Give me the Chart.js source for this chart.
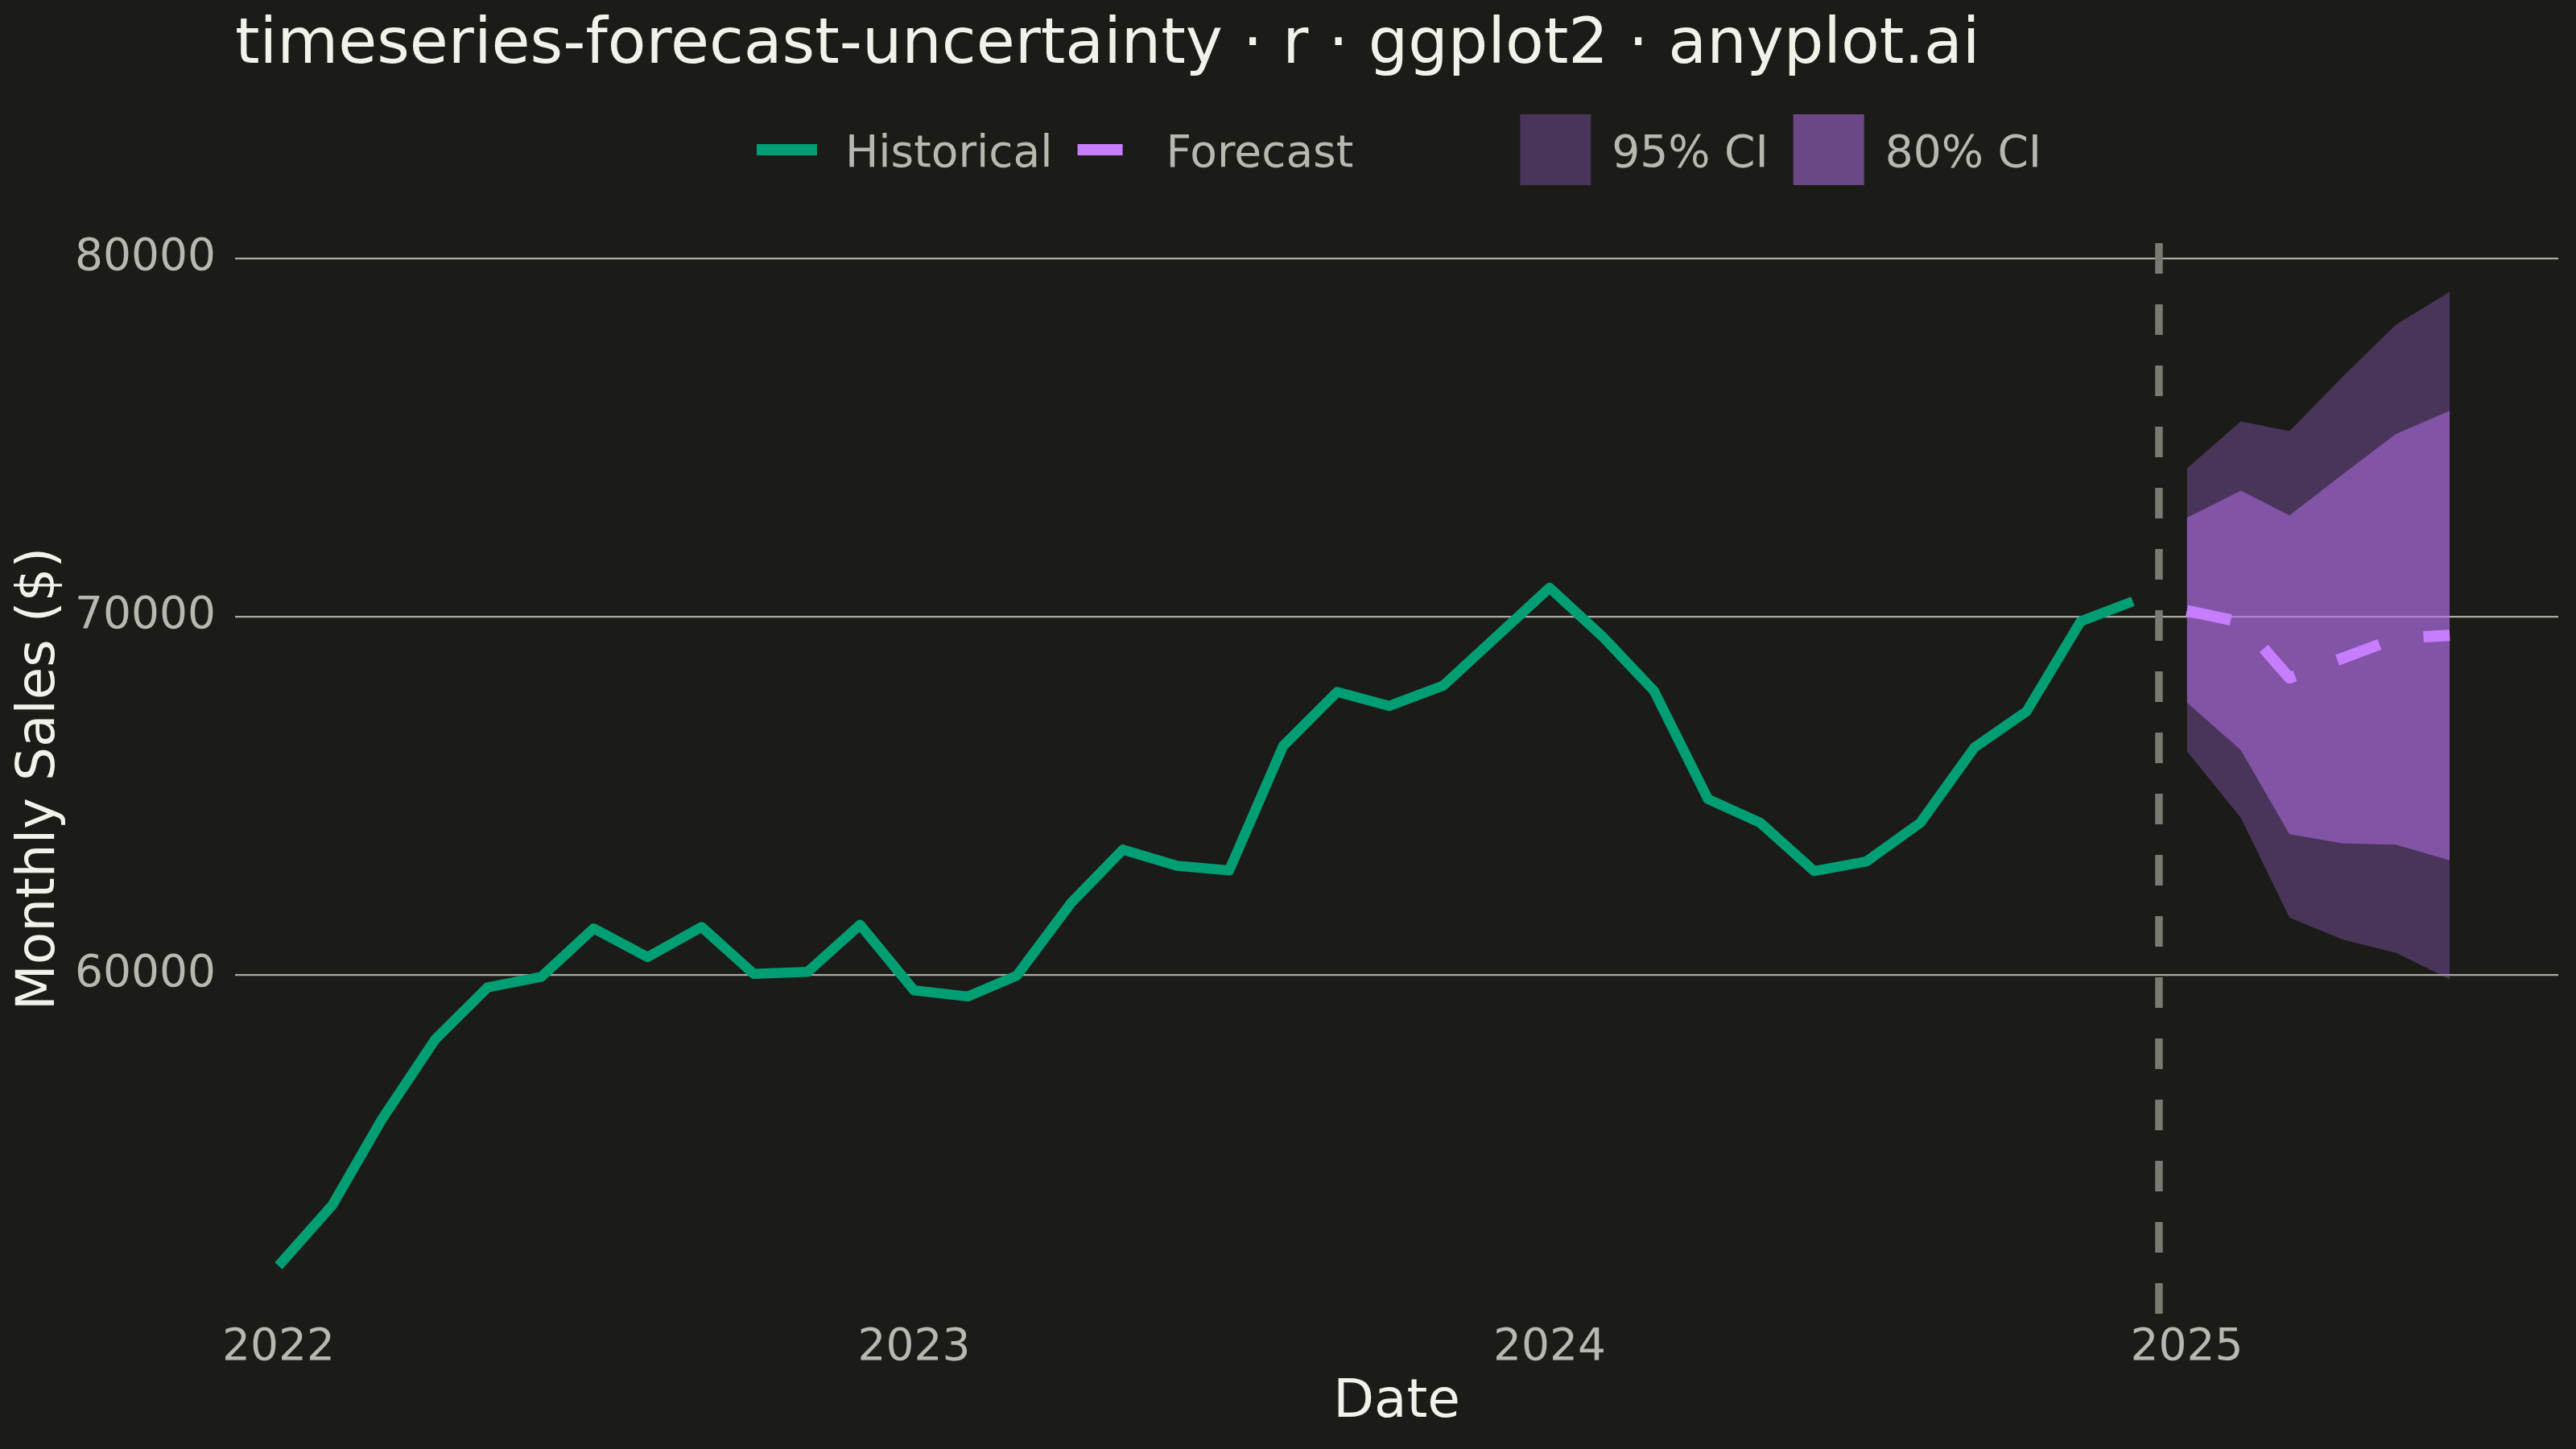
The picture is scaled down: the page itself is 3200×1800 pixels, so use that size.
<!DOCTYPE html>
<html>
<head>
<meta charset="utf-8">
<title>timeseries-forecast-uncertainty</title>
<script src="https://cdn.jsdelivr.net/npm/chart.js@4.4.1/dist/chart.umd.min.js"></script>
<style>
  html, body { margin: 0; padding: 0; background: #1b1b18; }
  #chart { display: block; }
</style>
</head>
<body>
<canvas id="chart" width="3200" height="1800"></canvas>
<script>
// monthly sales, Jan 2022 - Dec 2024
const histStart = [2022, 0];
const historical = [51880, 53580, 55940, 58200, 59650, 59950, 61300, 60500, 61340, 60030, 60090, 61400,
  59570, 59400, 59980, 62000, 63500, 63050, 62920, 66390, 67900, 67510, 68080, 69420,
  70810, 69420, 67930, 64910, 64250, 62900, 63170, 64250, 66350, 67360, 69870, 70430];

// forecast, Jan 2025 - Jun 2025
const fcstStart = [2025, 0];
const forecast = [70170, 69850, 68290, 68850, 69400, 69480];
const lower80 = [67610, 66280, 63930, 63670, 63640, 63200];
const upper80 = [72760, 73520, 72830, 73990, 75100, 75750];
const lower95 = [66250, 64390, 61600, 60980, 60620, 59880];
const upper95 = [74140, 75450, 75180, 76720, 78150, 79070];

const xTickLabels = ['2022', '2023', '2024', '2025'];
const yTicks = [60000, 70000, 80000];
const cutoff = [2024, 11, 16]; // forecast origin marker

const BG = '#1b1b18';
const HIST_COLOR = '#009e73';
const FCST_COLOR = '#c77dff';
const CI95_FILL = 'rgba(163, 103, 214, 0.35)';
const CI80_FILL = 'rgba(182, 113, 236, 0.52)';
const TICK_COLOR = '#b8b8b0';
const TITLE_COLOR = '#f2f1ea';
const FONT = '"DejaVu Sans", "Liberation Sans", sans-serif';

// x is days since 2022-01-01
const ORIGIN = Date.UTC(2022, 0, 1);
const dayOf = (y, m, d = 1) => (Date.UTC(y, m, d) - ORIGIN) / 86400000;
const monthly = (start, values) => values.map((v, i) => ({ x: dayOf(start[0], start[1] + i), y: v }));

const allY = historical.concat(lower95, upper95);
const yLo = Math.min(...allY), yHi = Math.max(...allY);
const yPad = (yHi - yLo) * 0.05;
const xFirst = dayOf(histStart[0], histStart[1]);
const xLast = dayOf(fcstStart[0], fcstStart[1] + forecast.length - 1);
const xRange = xLast - xFirst;
const xMin = xFirst - xRange * 0.02, xMax = xLast + xRange * 0.05;
const cutX = dayOf(cutoff[0], cutoff[1], cutoff[2]);

const band = (values, extra) => Object.assign({
  data: monthly(fcstStart, values),
  borderWidth: 0, borderColor: 'transparent', pointRadius: 0, fill: false
}, extra);

// title + two-group legend drawn above the panel
const headerPlugin = {
  id: 'header',
  beforeDraw(chart) {
    const ctx = chart.ctx;
    ctx.save();
    ctx.fillStyle = BG;
    ctx.fillRect(0, 0, chart.width, chart.height);
    ctx.restore();
  },
  afterDraw(chart) {
    const ctx = chart.ctx;
    const area = chart.chartArea;
    ctx.save();
    ctx.fillStyle = TITLE_COLOR;
    ctx.font = '78px ' + FONT;
    ctx.textBaseline = 'alphabetic';
    ctx.textAlign = 'left';
    ctx.fillText('timeseries-forecast-uncertainty · r · ggplot2 · anyplot.ai', area.left, 78);

    const items = [
      { label: 'Historical', kind: 'line', color: HIST_COLOR, dash: [] },
      { label: 'Forecast', kind: 'line', color: FCST_COLOR, dash: [56, 56] },
      { label: '95% CI', kind: 'box', color: CI95_FILL, newGroup: true },
      { label: '80% CI', kind: 'box', color: CI80_FILL }
    ];
    ctx.font = '55px ' + FONT;
    const keyW = it => it.kind === 'line' ? 75 : 88;
    const keyGap = it => it.kind === 'line' ? 35 : 26;
    let total = 0;
    items.forEach((it, i) => {
      if (i > 0) total += it.newGroup ? 207 : 31;
      total += keyW(it) + keyGap(it) + ctx.measureText(it.label).width;
    });
    let x = (area.left + area.right) / 2 - total / 2 + 3;
    const cy = 186;
    items.forEach((it, i) => {
      if (i > 0) x += it.newGroup ? 207 : 31;
      if (it.kind === 'line') {
        ctx.strokeStyle = it.color;
        ctx.lineWidth = 14;
        ctx.lineCap = 'butt';
        ctx.setLineDash(it.dash);
        ctx.beginPath();
        ctx.moveTo(x, cy);
        ctx.lineTo(x + 75, cy);
        ctx.stroke();
        ctx.setLineDash([]);
      } else {
        ctx.fillStyle = it.color;
        ctx.fillRect(x, cy - 44, 88, 88);
      }
      x += keyW(it) + keyGap(it);
      ctx.fillStyle = TICK_COLOR;
      ctx.fillText(it.label, x, 207);
      x += ctx.measureText(it.label).width;
    });
    ctx.restore();
  }
};

const ctx = document.getElementById('chart').getContext('2d');
const chart = new Chart(ctx, {
  type: 'line',
  data: {
    datasets: [
      band(lower95, { order: 6 }),
      band(upper95, { order: 6, fill: 0, backgroundColor: CI95_FILL }),
      band(lower80, { order: 5 }),
      band(upper80, { order: 5, fill: 2, backgroundColor: CI80_FILL }),
      {
        label: 'Historical',
        data: monthly(histStart, historical),
        borderColor: HIST_COLOR, borderWidth: 12.5, pointRadius: 0,
        borderJoinStyle: 'round', borderCapStyle: 'butt', fill: false, order: 2
      },
      {
        label: 'Forecast',
        data: monthly(fcstStart, forecast),
        borderColor: FCST_COLOR, borderWidth: 14, borderDash: [56, 56], pointRadius: 0,
        borderJoinStyle: 'round', borderCapStyle: 'butt', fill: false, order: 1
      },
      {
        label: 'cutoff',
        data: [{ x: cutX, y: yHi + yPad }, { x: cutX, y: yLo - yPad }],
        borderColor: '#7a7a73', borderWidth: 9.5, borderDash: [38, 38], pointRadius: 0,
        fill: false, order: 3
      }
    ]
  },
  options: {
    responsive: false,
    devicePixelRatio: 1,
    animation: false,
    events: [],
    layout: { padding: { top: 302, right: 22, bottom: 0, left: 0 } },
    plugins: { legend: { display: false }, tooltip: { enabled: false } },
    scales: {
      x: {
        type: 'linear',
        min: xMin,
        max: xMax,
        afterFit: s => { s.height = 167; },
        afterBuildTicks: s => { s.ticks = xTickLabels.map(t => ({ value: dayOf(+t, 0) })); },
        ticks: {
          autoSkip: false, maxRotation: 0, padding: 9,
          color: TICK_COLOR, font: { family: FONT, size: 55 },
          callback: (v, i) => xTickLabels[i]
        },
        grid: { display: false, drawTicks: false },
        border: { display: false },
        title: {
          display: true, text: 'Date', color: TITLE_COLOR,
          font: { family: FONT, size: 66 }, padding: { top: 0, bottom: 18 }
        }
      },
      y: {
        min: yLo - yPad,
        max: yHi + yPad,
        afterFit: s => { s.width = 292; },
        afterBuildTicks: s => { s.ticks = yTicks.map(v => ({ value: v })); },
        ticks: {
          padding: 24, color: TICK_COLOR, font: { family: FONT, size: 55 },
          callback: v => String(v)
        },
        grid: { color: '#aaaaa3', lineWidth: 2.2, drawTicks: false },
        border: { display: false },
        title: {
          display: true, text: 'Monthly Sales ($)', color: TITLE_COLOR,
          font: { family: FONT, size: 66 }, padding: { top: 10, bottom: 0 }
        }
      }
    }
  },
  plugins: [headerPlugin]
});
</script>
</body>
</html>
